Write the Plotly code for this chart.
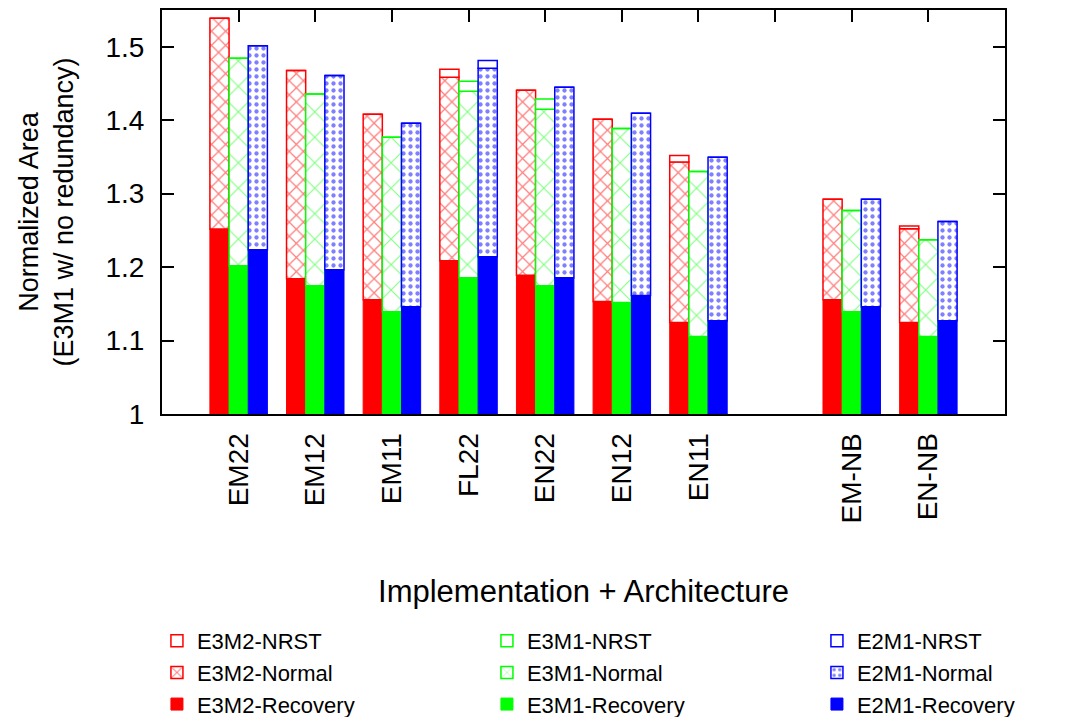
import plotly.graph_objects as go

categories = ["EM22", "EM12", "EM11", "FL22", "EN22", "EN12", "EN11", "EM-NB", "EN-NB"]
axis_order = ["EM22", "EM12", "EM11", "FL22", "EN22", "EN12", "EN11", " ", "EM-NB", "EN-NB"]

# top of each stacked segment (normalized area)
e3m2_recovery = [1.252, 1.184, 1.1555, 1.2085, 1.1888, 1.1532, 1.1246, 1.1555, 1.1246]
e3m2_normal   = [1.5388, 1.4675, 1.4082, 1.4585, 1.4408, 1.4014, 1.3429, 1.2925, 1.2521]
e3m2_nrst     = [1.5388, 1.4675, 1.4082, 1.4694, 1.4408, 1.4014, 1.3518, 1.2925, 1.2558]

e3m1_recovery = [1.2018, 1.1746, 1.1392, 1.1855, 1.1746, 1.1518, 1.1056, 1.1392, 1.1056]
e3m1_normal   = [1.4844, 1.4358, 1.3769, 1.4395, 1.4150, 1.3886, 1.3301, 1.2770, 1.2371]
e3m1_nrst     = [1.4844, 1.4358, 1.3769, 1.4531, 1.4290, 1.3886, 1.3301, 1.2770, 1.2371]

e2m1_recovery = [1.2235, 1.1964, 1.1460, 1.2140, 1.1855, 1.1614, 1.1269, 1.1460, 1.1269]
e2m1_normal   = [1.5015, 1.4607, 1.3959, 1.4707, 1.4449, 1.4095, 1.3497, 1.2925, 1.2620]
e2m1_nrst     = [1.5015, 1.4607, 1.3959, 1.4811, 1.4449, 1.4095, 1.3497, 1.2925, 1.2620]

y_ticks = [1, 1.1, 1.2, 1.3, 1.4, 1.5]
y_ticktext = ["1", "1.1", "1.2", "1.3", "1.4", "1.5"]

FONT = "Liberation Sans, Arial, Helvetica, sans-serif"
FS = 28

configs = [
    ("E3M2", "#ff0000", "x", 10, 0.24, e3m2_recovery, e3m2_normal, e3m2_nrst),
    ("E3M1", "#00ff00", "x", 18, 0.12, e3m1_recovery, e3m1_normal, e3m1_nrst),
    ("E2M1", "#0000ff", ".", 7, 0.3, e2m1_recovery, e2m1_normal, e2m1_nrst),
]

fig = go.Figure()
for ci, (name, color, shape, psize, sol, rec, nor, nrst) in enumerate(configs):
    base0 = [1.0] * len(rec)
    # Recovery
    fig.add_trace(go.Bar(
        x=categories, y=[r - b for r, b in zip(rec, base0)], base=base0,
        offsetgroup=name, name=f"{name}-Recovery", legendrank=300 + ci,
        marker=dict(color=color, line=dict(color=color, width=1)),
    ))
    # Normal
    fig.add_trace(go.Bar(
        x=categories, y=[n - r for n, r in zip(nor, rec)], base=rec,
        offsetgroup=name, name=f"{name}-Normal", legendrank=200 + ci,
        marker=dict(color="white", line=dict(color=color, width=1.5),
                    pattern=dict(shape=shape, fgcolor=color, bgcolor="white",
                                 size=psize, solidity=sol, fillmode="overlay")),
    ))
    # NRST
    fig.add_trace(go.Bar(
        x=categories, y=[t - n for t, n in zip(nrst, nor)], base=nor,
        offsetgroup=name, name=f"{name}-NRST", legendrank=100 + ci,
        marker=dict(color="white", line=dict(color=color, width=1.5)),
    ))

fig.update_layout(
    width=1070, height=717,
    margin=dict(l=162, r=65, t=10, b=303, autoexpand=False),
    paper_bgcolor="white", plot_bgcolor="white",
    font=dict(family=FONT, size=FS, color="black"),
    barmode="group", bargap=0.25, bargroupgap=0,
    showlegend=True,
    legend=dict(orientation="h", x=-0.006, xanchor="left", y=-0.64, yanchor="middle",
                entrywidth=285, entrywidthmode="pixels",
                font=dict(family=FONT, size=22), traceorder="normal",
                bgcolor="rgba(0,0,0,0)"),
    xaxis=dict(type="category", categoryorder="array", categoryarray=axis_order,
               range=[-1, 10], showline=True, mirror=True, linecolor="black", linewidth=2,
               ticks="", tickangle=-90, ticklabelstandoff=6, showgrid=False,
               tickfont=dict(size=FS),
               title=dict(text="Implementation + Architecture", standoff=58,
                          font=dict(size=31))),
    xaxis2=dict(type="category", categoryorder="array", categoryarray=axis_order,
                matches="x", overlaying="x", side="top", range=[-1, 10],
                ticks="inside", ticklen=12, tickwidth=2, tickcolor="black",
                showticklabels=False, showline=False, showgrid=False),
    yaxis=dict(range=[1, 1.55], tickvals=y_ticks, ticktext=y_ticktext,
               ticks="inside", ticklen=12, tickwidth=2, tickcolor="black",
               showline=True, mirror="ticks", linecolor="black", linewidth=2,
               showgrid=False, zeroline=False, ticklabelstandoff=10,
               tickfont=dict(size=FS),
               title=dict(text="Normalized Area<br>(E3M1 w/ no redundancy)",
                          standoff=24, font=dict(size=27))),
)
# invisible trace to activate the top tick axis
fig.add_trace(go.Scatter(x=[categories[0]], y=[None], xaxis="x2", showlegend=False,
                         hoverinfo="skip", mode="markers"))

fig.write_html("out.html")
